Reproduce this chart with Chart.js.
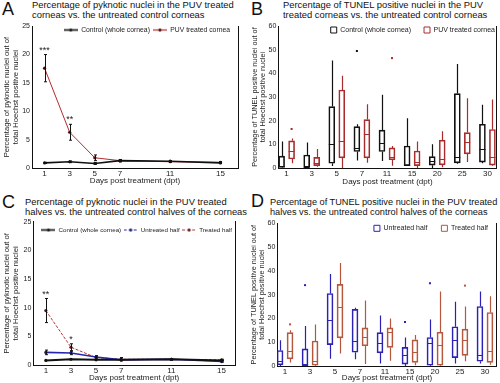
<!DOCTYPE html>
<html lang="en">
<head>
<meta charset="UTF-8">
<title>Pyknotic and TUNEL positive nuclei</title>
<script src="https://cdn.jsdelivr.net/npm/chart.js"></script>
<style>
  body { margin: 0; width: 500px; height: 383px; background: #fff; position: relative; overflow: hidden;
         font-family: "Liberation Sans", Arial, sans-serif; color: #111; }
  .panel { position: absolute; font-size: 18px; line-height: 18px; }
  .title { position: absolute; font-size: 9.4px; line-height: 10.1px; white-space: nowrap; }
  canvas { position: absolute; }
</style>
</head>
<body>

<div class="panel" style="left:2px; top:0">A</div>
<div class="title" style="left:32px; top:0">Percentage of pyknotic nuclei in the PUV treated<br>corneas vs. the untreated control corneas</div>
<canvas id="chartA" width="250" height="170" style="left:0; top:20px"></canvas>

<div class="panel" style="left:251px; top:0">B</div>
<div class="title" style="left:283px; top:0">Percentage of TUNEL positive nuclei in the PUV<br>treated corneas vs. the untreated control corneas</div>
<canvas id="chartB" width="250" height="170" style="left:250px; top:20px"></canvas>

<div class="panel" style="left:2px; top:193px">C</div>
<div class="title" style="left:25px; top:197px">Percentage of pyknotic nuclei in the PUV treated<br>halves vs. the untreated control halves of the corneas</div>
<canvas id="chartC" width="250" height="170" style="left:0; top:213px"></canvas>

<div class="panel" style="left:251px; top:192px">D</div>
<div class="title" style="left:270px; top:197px; font-size:9.2px">Percentage of TUNEL positive nuclei in the PUV treated<br>halves vs. the untreated control halves of the corneas</div>
<canvas id="chartD" width="250" height="170" style="left:250px; top:213px"></canvas>

<script>
const FONT = '"Liberation Sans", Arial, sans-serif';
Chart.defaults.font.family = FONT;
Chart.defaults.color = '#222';
Chart.defaults.animation = false;
Chart.defaults.responsive = false;
Chart.defaults.devicePixelRatio = 1;
Chart.defaults.events = [];

// ---- data: A and C (mean +/- error, days post treatment) ----
const daysLine = [1, 3, 5, 7, 11, 15];
const aControl = [0.9, 1.1, 0.8, 1.3, 1.2, 0.9];
const aControlErr = [0.1, 0.15, 0.15, 0.2, 0.1, 0.1];
const aPuv = [17.6, 6.3, 1.8, 1.3, 1.1, 1.0];
const aPuvErr = [2.4, 1.4, 0.5, 0.2, 0.1, 0.1];
const aStars = ['***', '**', '', '', '', ''];

const cControl = [0.8, 1.0, 0.9, 0.9, 1.0, 0.8];
const cUntreated = [2.2, 2.1, 1.4, 0.9, 1.0, 0.6];
const cUntreatedErr = [0.4, 0.3, 0.2, 0.1, 0.1, 0.1];
const cTreated = [9.5, 3.1, 1.3, 1.0, 1.0, 0.9];
const cTreatedErr = [2.1, 0.6, 0.3, 0.3, 0.1, 0.1];
const cStars = ['**', '*', '', '', '', ''];

// ---- data: B and D box plots, [min, q1, median, q3, max] per day ----
const daysBox = ['1', '3', '5', '7', '11', '15', '20', '25', '30'];
const bControl = [[0, 0.2, 0.8, 5, 11.2], [0, 0.3, 0.6, 5.5, 10.8], [0.8, 2, 10, 26, 45.5],
  [3.2, 7, 8.5, 17.5, 18.5], [3, 7, 10.5, 16, 31], [0.8, 1, 1.3, 9.3, 21],
  [0, 1.2, 2.8, 4.8, 10], [1.8, 2.2, 4.8, 31.5, 44], [2, 2.5, 8, 18.5, 26.8]];
const bControlOut = [[3, 49.5]];
const bPuv = [[2, 3.8, 7, 11.5, 12.5], [0.5, 1, 2.3, 4.5, 8], [0, 4.3, 11.5, 33, 39],
  [2.2, 4.3, 14.2, 20.5, 27], [1, 3.5, 4.5, 8.5, 9.3], [0, 1, 2.7, 7.2, 11.2],
  [0.3, 1.3, 3.8, 11.8, 15.5], [2.5, 6, 11, 15, 29.5], [0.8, 1.2, 4.5, 16.3, 29]];
const bPuvOut = [[0, 16.5], [4, 46.5]];

const dUntreated = [[0, 0.5, 2, 6.5, 10.8], [0, 0, 0.7, 7.2, 16.8], [3, 9, 19.5, 30.5, 38.7],
  [2.8, 5.8, 10.5, 23.8, 24.5], [1, 5.5, 9.8, 14, 21.2], [0, 0.8, 4.5, 7.8, 12],
  [0, 0.3, 9.5, 12, 19.5], [1, 3.5, 10.8, 16.5, 27], [1, 2, 4.5, 25, 31.3]];
const dUntreatedOut = [[1, 34], [5, 18.5], [6, 34.8]];
const dTreated = [[1.5, 3, 6.5, 14, 15], [0, 0.3, 2, 10.5, 17.5], [5.3, 11.8, 24.6, 34.3, 43.3],
  [0.8, 8.5, 12.2, 16, 27.5], [2.2, 7.8, 14.5, 16, 20], [0.3, 1.5, 5.8, 11, 13],
  [0, 0.3, 9, 14.2, 31.3], [2, 4.5, 11, 15.5, 25], [0.5, 1.5, 6.3, 22.5, 29.3]];
const dTreatedOut = [[0, 17.5], [7, 33.8]];

const yTitlePyk = ['Percentage of pyknotic nuclei out of', 'total Hoechst positive nuclei'];
const yTitleTunel = ['Percentage of TUNEL positive nuclei out of', 'total Hoechst positive nuclei'];

// legend sits inside the plot: no layout space, placed after layout
const floatLegend = {
  id: 'floatLegend',
  beforeInit(chart) {
    const lg = chart.legend;
    if (!lg) return;
    const fit = lg.fit;
    lg.fit = function () { fit.call(this); this.height = 0; };
  },
  afterLayout(chart, args, o) {
    const lg = chart.legend;
    if (!lg || o.cy == null) return;
    const lab = lg.options.labels;
    lg.top = o.cy - lab.padding - lab.font.size / 2;
    lg.right = o.end + lab.padding;
    lg.left = 0;
    lg.bottom = lg.top + lab.padding * 2 + lab.font.size + 4;
    lg.height = lg.bottom - lg.top;
  }
};

// error bars and significance stars for the line charts
const errBars = {
  id: 'errBars',
  afterDatasetsDraw(chart) {
    const { ctx, scales: { y } } = chart;
    ctx.save();
    ctx.strokeStyle = '#111';
    ctx.fillStyle = '#222';
    ctx.lineWidth = 1;
    ctx.font = '9px ' + FONT;
    ctx.textAlign = 'center';
    ctx.textBaseline = 'alphabetic';
    chart.data.datasets.forEach((ds, di) => {
      if (!ds.err) return;
      chart.getDatasetMeta(di).data.forEach((pt, i) => {
        const v = ds.data[i].y, e = ds.err[i];
        const top = y.getPixelForValue(v + e), bot = y.getPixelForValue(v - e);
        const x = Math.round(pt.x) + 0.5;
        ctx.beginPath();
        ctx.moveTo(x, top); ctx.lineTo(x, bot);
        ctx.moveTo(x - 1.5, top); ctx.lineTo(x + 1.5, top);
        ctx.moveTo(x - 1.5, bot); ctx.lineTo(x + 1.5, bot);
        ctx.stroke();
        if (ds.stars && ds.stars[i]) ctx.fillText(ds.stars[i], pt.x, top - 2);
      });
    });
    ctx.restore();
  }
};

// whiskers, medians and outliers on top of the floating-bar boxes
const boxParts = {
  id: 'boxParts',
  afterDatasetsDraw(chart) {
    const { ctx, scales: { y } } = chart;
    chart.data.datasets.forEach((ds, di) => {
      if (!ds.stats) return;
      const meta = chart.getDatasetMeta(di);
      ctx.save();
      ctx.strokeStyle = ds.borderColor;
      ctx.fillStyle = ds.borderColor;
      ctx.lineWidth = 1.2;
      meta.data.forEach((bar, i) => {
        const [lo, q1, med, q3, hi] = ds.stats[i];
        const x = Math.round(bar.x) + 0.5;
        const half = bar.width / 2;
        const my = Math.round(y.getPixelForValue(med)) + 0.5;
        ctx.beginPath();
        ctx.moveTo(x, y.getPixelForValue(hi)); ctx.lineTo(x, y.getPixelForValue(q3));
        ctx.moveTo(x, y.getPixelForValue(q1)); ctx.lineTo(x, y.getPixelForValue(lo));
        ctx.moveTo(bar.x - half, my); ctx.lineTo(bar.x + half, my);
        ctx.stroke();
      });
      (ds.outliers || []).forEach(([i, v]) => {
        const bar = meta.data[i];
        ctx.fillRect(bar.x - 1, y.getPixelForValue(v) - 1, 2, 2);
      });
      ctx.restore();
    });
  }
};

function legendMark(color, width, dash, dot) {
  const c = document.createElement('canvas');
  c.width = 14; c.height = 5;
  const g = c.getContext('2d');
  g.strokeStyle = color; g.lineWidth = width;
  if (dash) g.setLineDash(dash);
  g.beginPath(); g.moveTo(0, 2.5); g.lineTo(14, 2.5); g.stroke();
  g.fillStyle = dot;
  g.beginPath(); g.arc(7, 2.5, 1.6, 0, Math.PI * 2); g.fill();
  return c;
}

function legendOpts(size, pad, marks) {
  const labels = { font: { size: size, family: FONT }, padding: pad, color: '#222' };
  if (marks) {
    Object.assign(labels, {
      usePointStyle: true, pointStyleWidth: 14,
      generateLabels: ch => Chart.defaults.plugins.legend.labels.generateLabels(ch)
        .map(it => Object.assign(it, { pointStyle: ch.data.datasets[it.datasetIndex].mark }))
    });
  } else {
    Object.assign(labels, { boxWidth: 6, boxHeight: 6 });
  }
  return { display: true, position: 'top', align: 'end', labels: labels };
}

function makeScales(o) {
  return {
    x: {
      type: 'linear', min: o.xMin, max: o.xMax, offset: false,
      afterBuildTicks: s => { s.ticks = o.xTicks.map(v => ({ value: v })); },
      afterFit: s => { s.height = o.xHeight; },
      grid: { display: false, drawTicks: false, offset: false },
      border: { color: '#111', width: 1 },
      ticks: { font: { size: 8 }, padding: 1, maxRotation: 0, autoSkip: false, callback: o.xLabel },
      title: { display: true, text: 'Days post treatment (dpt)', color: '#222',
               font: { size: 8, lineHeight: '9.6px' }, padding: { top: 0, bottom: o.xTitlePad } }
    },
    y: {
      position: 'left', min: 0, max: o.yMax,
      afterFit: s => { s.width = o.yWidth; },
      grid: { display: false, drawTicks: false },
      border: { color: '#111', width: 1 },
      ticks: { stepSize: o.yStep, font: { size: 7 }, padding: 2 },
      title: { display: true, text: o.yTitle, color: '#222',
               font: { size: o.yTitleSize, lineHeight: o.yTitleLine + 'px' }, padding: { top: o.yTitlePad, bottom: 0 } }
    },
    yR: {
      position: 'right', min: 0, max: 1,
      afterFit: s => { s.width = 0; },
      grid: { display: false, drawTicks: false },
      border: { color: '#111', width: 1 },
      ticks: { display: false }
    }
  };
}

const xy = (xs, ys) => xs.map((x, i) => ({ x: x, y: ys[i] }));

function lineSet(label, values, err, color, width, dash, dot, mark) {
  return {
    label: label, data: xy(daysLine, values), err: err,
    borderColor: color, backgroundColor: color, borderWidth: width, borderDash: dash || [],
    pointRadius: 1.6, pointBackgroundColor: dot, pointBorderColor: dot, pointBorderWidth: 0,
    tension: 0, mark: mark
  };
}

function boxSet(label, stats, outliers, color) {
  return {
    label: label, stats: stats, outliers: outliers,
    data: stats.map((s, i) => ({ x: i, y: [s[1], s[3]] })),
    borderColor: color, backgroundColor: 'rgba(255,255,255,0)', borderWidth: 1,
    borderSkipped: false, barThickness: 10, maxBarThickness: 6
  };
}

// ---- A ----
const setA1 = lineSet('Control (whole cornea)', aControl, aControlErr, '#111', 1.6, null, '#111',
  legendMark('#111', 1.6, null, '#111'));
const setA2 = lineSet('PUV treated cornea', aPuv, aPuvErr, '#b52a2a', 1, null, '#4a0c0c',
  legendMark('#b52a2a', 1.2, null, '#4a0c0c'));
setA2.stars = aStars;
new Chart(document.getElementById('chartA'), {
  type: 'line',
  data: { datasets: [setA1, setA2] },
  options: {
    layout: { padding: { top: 5, right: 12, left: 0, bottom: 0 } },
    scales: makeScales({ xMin: 0, xMax: 16.4, xTicks: daysLine, xHeight: 22, xTitlePad: 4.2, xLabel: v => v,
      yMax: 25, yStep: 5, yWidth: 32, yTitle: yTitlePyk, yTitleSize: 7.6, yTitleLine: 9.5, yTitlePad: 1.75 }),
    plugins: { legend: legendOpts(6.8, 3, true), tooltip: { enabled: false }, floatLegend: { cy: 10, end: 230 } }
  },
  plugins: [floatLegend, errBars]
});

// ---- B ----
new Chart(document.getElementById('chartB'), {
  type: 'bar',
  data: { datasets: [
    boxSet('Control (whole cornea)', bControl, bControlOut, '#111'),
    boxSet('PUV treated cornea', bPuv, bPuvOut, '#a82c2c')
  ] },
  options: {
    layout: { padding: { top: 5, right: 3.3, left: 0, bottom: 0 } },
    scales: makeScales({ xMin: -0.33, xMax: 8.37, xTicks: daysBox.map((d, i) => i), xHeight: 22, xTitlePad: 3.5,
      xLabel: v => daysBox[v], yMax: 60, yStep: 10, yWidth: 28.3, yTitle: yTitleTunel, yTitleSize: 7.3,
      yTitleLine: 7.5, yTitlePad: 1.25 }),
    plugins: { legend: legendOpts(7, 13, false), tooltip: { enabled: false }, floatLegend: { cy: 10, end: 245 } }
  },
  plugins: [floatLegend, boxParts]
});

// ---- C ----
const setC3 = lineSet('Treated half', cTreated, cTreatedErr, '#b03a3a', 1, [3, 1.5], '#5a1414',
  legendMark('#b03a3a', 1, [3, 2], '#5a1414'));
setC3.stars = cStars;
new Chart(document.getElementById('chartC'), {
  type: 'line',
  data: { datasets: [
    lineSet('Control (whole cornea)', cControl, null, '#111', 2, null, '#111', legendMark('#111', 1.6, null, '#111')),
    lineSet('Untreated half', cUntreated, cUntreatedErr, '#2727ad', 1.6, null, '#1a1a70',
      legendMark('#2727ad', 1, [3, 2], '#1a1a70')),
    setC3
  ] },
  options: {
    layout: { padding: { top: 8.7, right: 15, left: 0, bottom: 0 } },
    scales: makeScales({ xMin: 0, xMax: 16.07, xTicks: daysLine, xHeight: 18, xTitlePad: 0, xLabel: v => v,
      yMax: 25, yStep: 5, yWidth: 33.3, yTitle: yTitlePyk, yTitleSize: 7.6, yTitleLine: 9.5, yTitlePad: 1.9 }),
    plugins: { legend: legendOpts(6.2, 2.5, true), tooltip: { enabled: false }, floatLegend: { cy: 17, end: 232 } }
  },
  plugins: [floatLegend, errBars]
});

// ---- D ----
new Chart(document.getElementById('chartD'), {
  type: 'bar',
  data: { datasets: [
    boxSet('Untreated half', dUntreated, dUntreatedOut, '#2b22b5'),
    boxSet('Treated half', dTreated, dTreatedOut, '#b5573d')
  ] },
  options: {
    layout: { padding: { top: 10.3, right: 3.3, left: 0, bottom: 0 } },
    scales: makeScales({ xMin: -0.31, xMax: 8.47, xTicks: daysBox.map((d, i) => i), xHeight: 17, xTitlePad: 0,
      xLabel: v => daysBox[v], yMax: 60, yStep: 10, yWidth: 27.3, yTitle: yTitleTunel, yTitleSize: 7.3,
      yTitleLine: 8, yTitlePad: 0 }),
    plugins: { legend: legendOpts(7, 14, false), tooltip: { enabled: false }, floatLegend: { cy: 15.3, end: 238 } }
  },
  plugins: [floatLegend, boxParts]
});
</script>
</body>
</html>
